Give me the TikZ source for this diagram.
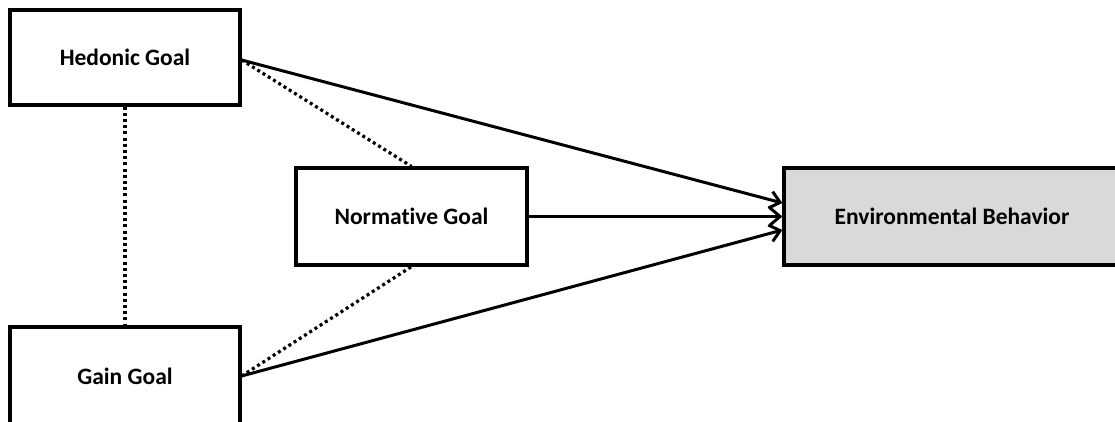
\documentclass[tikz,border=0pt]{standalone}
\usepackage{fontspec}
\setmainfont[Ligatures=NoCommon]{Carlito}
\usetikzlibrary{arrows.meta}
\definecolor{envgray}{HTML}{D9D9D9}
\begin{document}
\begin{tikzpicture}[x=1pt,y=-1pt,
  goalbox/.style={draw, line width=3.2pt, font=\fontsize{23.5}{28}\selectfont\bfseries, inner sep=0pt},
  arrowlink/.style={line width=3pt, -{Straight Barb[length=10pt,width=17pt,line width=3pt]}},
  dotlink/.style={line width=3.2pt, dash pattern=on 3pt off 3.2pt}
]
\clip (0,0) rectangle (1115,421);
\useasboundingbox (0,0) rectangle (1115,421);
\node[goalbox, minimum width=230pt, minimum height=95pt] (hed) at (125,57.5) {Hedonic Goal};
\node[goalbox, minimum width=230pt, minimum height=98pt] (gain) at (125,376) {Gain Goal};
\node[goalbox, minimum width=231pt, minimum height=97pt] (norm) at (411.5,216.5) {Normative Goal};
\node[goalbox, fill=envgray, minimum width=336pt, minimum height=97pt] (env) at (952,216.5) {Environmental Behavior};
\coordinate (hedout) at ([yshift=-2.5pt]hed.east);
\coordinate (envtop) at ([yshift=13.5pt]env.west);
\coordinate (envbot) at ([yshift=-13.5pt]env.west);
\draw[dotlink] (hed.south) -- (gain.north);
\draw[dotlink] (hedout) -- (norm.north);
\draw[dotlink] (gain.east) -- (norm.south);
\draw[arrowlink] (hedout) -- (envtop);
\draw[arrowlink] (norm.east) -- (env.west);
\draw[arrowlink] (gain.east) -- (envbot);
\end{tikzpicture}
\end{document}
